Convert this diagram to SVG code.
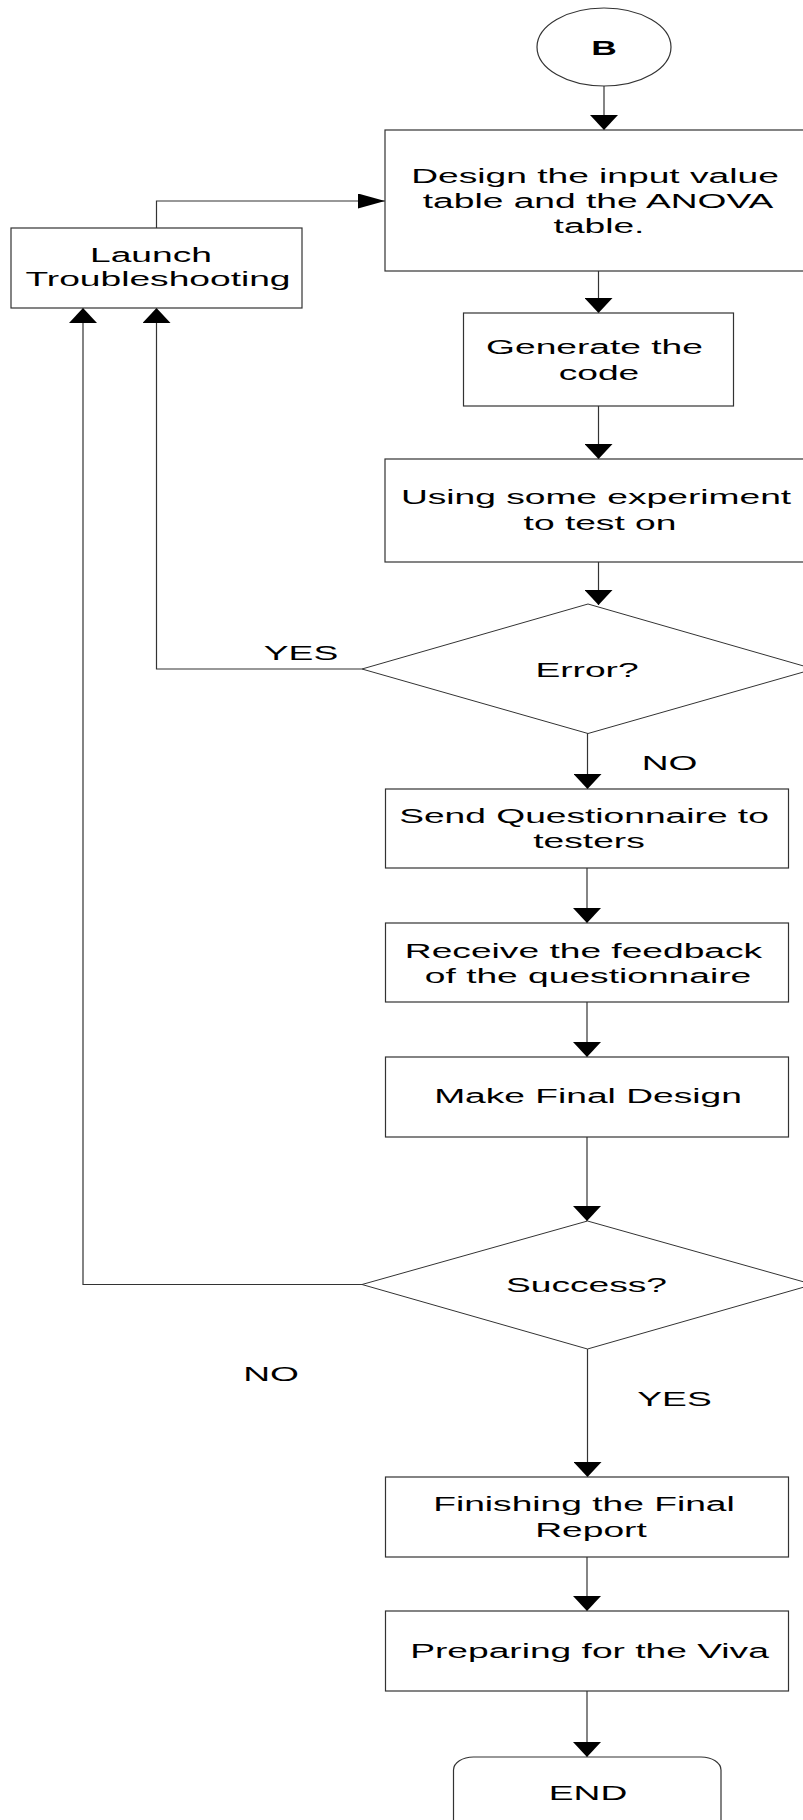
<svg xmlns="http://www.w3.org/2000/svg" width="803" height="1820" viewBox="0 0 803 1820">
  <style>
    .box { fill: #ffffff; stroke: #333333; stroke-width: 1.2; }
    .dec { fill: #ffffff; stroke: #333333; stroke-width: 1; }
    .wire { fill: none; stroke: #333333; stroke-width: 1.2; }
    .t { font-family: "Liberation Sans", Arial, sans-serif; font-size: 21px; fill: #000000; text-anchor: middle; }
    .tb { font-family: "Liberation Sans", Arial, sans-serif; font-size: 20px; font-weight: bold; fill: #000000; text-anchor: middle; }
  </style>
  <defs>
    <!-- drawing is stretched horizontally, so heads are wider across a vertical shaft -->
    <marker id="headV" viewBox="0 0 15 28" refX="15" refY="14" markerWidth="15" markerHeight="28" markerUnits="userSpaceOnUse" orient="auto">
      <path d="M0,0 L15,14 L0,28 Z" fill="#000000"/>
    </marker>
    <marker id="headH" viewBox="0 0 27 15" refX="27" refY="7.5" markerWidth="27" markerHeight="15" markerUnits="userSpaceOnUse" orient="auto">
      <path d="M0,0 L27,7.5 L0,15 Z" fill="#000000"/>
    </marker>
  </defs>
  <rect x="0" y="0" width="803" height="1820" fill="#ffffff"/>

  <g id="connectors">
    <path class="wire" d="M604,86 V130" marker-end="url(#headV)"/>
    <path class="wire" d="M598.5,271 V313" marker-end="url(#headV)"/>
    <path class="wire" d="M598.5,406 V459" marker-end="url(#headV)"/>
    <path class="wire" d="M598.5,562 V605" marker-end="url(#headV)"/>
    <path class="wire" d="M587.5,733 V789" marker-end="url(#headV)"/>
    <path class="wire" d="M587,868 V923" marker-end="url(#headV)"/>
    <path class="wire" d="M587,1002 V1057" marker-end="url(#headV)"/>
    <path class="wire" d="M587,1137 V1221" marker-end="url(#headV)"/>
    <path class="wire" d="M587.5,1349 V1477" marker-end="url(#headV)"/>
    <path class="wire" d="M587,1557 V1611" marker-end="url(#headV)"/>
    <path class="wire" d="M587,1691 V1757" marker-end="url(#headV)"/>
    <path class="wire" d="M156.5,228 V201 H385" marker-end="url(#headH)"/>
    <path class="wire" d="M362,669 H156.5 V308" marker-end="url(#headV)"/>
    <path class="wire" d="M362,1284.5 H83 V308" marker-end="url(#headV)"/>
    <text class="t" transform="translate(301,660) scale(1.77,1)">YES</text>
    <text class="t" transform="translate(669.5,770) scale(1.77,1)">NO</text>
    <text class="t" transform="translate(271,1381) scale(1.77,1)">NO</text>
    <text class="t" transform="translate(674.5,1406) scale(1.77,1)">YES</text>
  </g>

  <g id="start-b">
    <ellipse class="box" cx="604" cy="47" rx="67" ry="39"/>
    <text class="tb" transform="translate(604,54.5) scale(1.77,1)">B</text>
  </g>

  <g id="design-tables">
    <rect class="box" x="385" y="130" width="426" height="141"/>
    <text class="t" transform="translate(595,183) scale(1.77,1)">Design the input value</text>
    <text class="t" transform="translate(598,208) scale(1.77,1)">table and the ANOVA</text>
    <text class="t" transform="translate(599,233) scale(1.77,1)">table.</text>
  </g>

  <g id="launch-troubleshooting">
    <rect class="box" x="11" y="228" width="291" height="80"/>
    <text class="t" transform="translate(151,261.5) scale(1.77,1)">Launch</text>
    <text class="t" transform="translate(158,286) scale(1.77,1)">Troubleshooting</text>
  </g>

  <g id="generate-code">
    <rect class="box" x="463.5" y="313" width="270" height="93"/>
    <text class="t" transform="translate(594.5,354) scale(1.77,1)">Generate the</text>
    <text class="t" transform="translate(599,380) scale(1.77,1)">code</text>
  </g>

  <g id="experiment">
    <rect class="box" x="385" y="459" width="426" height="103"/>
    <text class="t" transform="translate(596,504) scale(1.77,1)">Using some experiment</text>
    <text class="t" transform="translate(600,530) scale(1.77,1)">to test on</text>
  </g>

  <g id="error-check">
    <polygon class="dec" points="588,604 814,669 588,733.5 362,669"/>
    <text class="t" transform="translate(587,677) scale(1.77,1)">Error?</text>
  </g>

  <g id="send-questionnaire">
    <rect class="box" x="385.5" y="789" width="403" height="79"/>
    <text class="t" transform="translate(584,822.5) scale(1.77,1)">Send Questionnaire to</text>
    <text class="t" transform="translate(589,848) scale(1.77,1)">testers</text>
  </g>

  <g id="receive-feedback">
    <rect class="box" x="385.5" y="923" width="403" height="79"/>
    <text class="t" transform="translate(583.5,957.5) scale(1.77,1)">Receive the feedback</text>
    <text class="t" transform="translate(588,983) scale(1.77,1)">of the questionnaire</text>
  </g>

  <g id="final-design">
    <rect class="box" x="385.5" y="1057" width="403" height="80"/>
    <text class="t" transform="translate(588,1103) scale(1.77,1)">Make Final Design</text>
  </g>

  <g id="success-check">
    <polygon class="dec" points="587.5,1221 813,1284.5 587.5,1349 362,1284.5"/>
    <text class="t" transform="translate(586.5,1291.5) scale(1.77,1)">Success?</text>
  </g>

  <g id="final-report">
    <rect class="box" x="385.5" y="1477" width="403" height="80"/>
    <text class="t" transform="translate(584,1510.5) scale(1.77,1)">Finishing the Final</text>
    <text class="t" transform="translate(591,1536.5) scale(1.77,1)">Report</text>
  </g>

  <g id="viva">
    <rect class="box" x="385.5" y="1611" width="403" height="80"/>
    <text class="t" transform="translate(589.5,1658) scale(1.77,1)">Preparing for the Viva</text>
  </g>

  <g id="end">
    <rect class="box" x="453.5" y="1757" width="267.5" height="90" rx="20" ry="13"/>
    <text class="t" transform="translate(588,1800) scale(1.77,1)">END</text>
  </g>
</svg>
